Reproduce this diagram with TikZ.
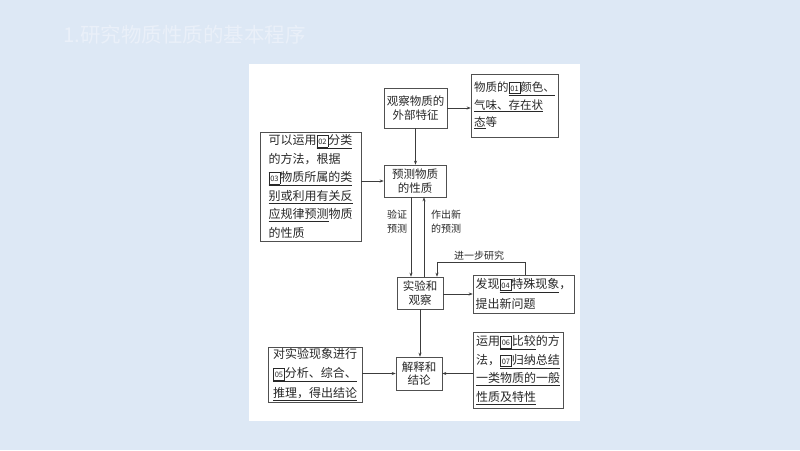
\documentclass[tikz,border=0pt]{standalone}
\usepackage{fontspec}
\newfontfamily\cjk{Noto Sans CJK SC}
\usetikzlibrary{arrows.meta}
\definecolor{bg}{RGB}{221,232,245}
\definecolor{titlec}{RGB}{234,240,249}
\definecolor{boxc}{RGB}{80,80,80}
\definecolor{linec}{RGB}{60,60,60}
\definecolor{txt}{RGB}{40,40,40}
\newcommand\nb[1]{{\fboxsep=0pt\fboxrule=0.45pt\fbox{\makebox[11pt]{\rule[-1.8pt]{0pt}{11pt}\fontsize{7.5}{7.5}\selectfont #1}}}}
\newcommand\ul[1]{\underline{#1}}
\begin{document}
\begin{tikzpicture}[x=1pt,y=-1pt,
  box/.style={draw=boxc, line width=0.6pt, inner sep=0pt, text=txt, align=center,
    font=\cjk\fontsize{11.5}{13.5}\selectfont},
  bigbox/.style={draw=boxc, line width=0.6pt, inner sep=0pt, text=txt, align=left,
    font=\cjk\fontsize{12}{18.5}\selectfont},
  lab/.style={text=txt, inner sep=0pt, align=center, font=\cjk\fontsize{10}{14}\selectfont},
  conn/.style={draw=linec, line width=0.6pt, -{Stealth[length=4pt,width=3pt]}}]
\fill[bg] (0,0) rectangle (800,450);
\useasboundingbox (0,0) rectangle (800,450);
\fill[white] (249,64) rectangle (580,421);
\node[anchor=west, text=titlec, inner sep=0pt, font=\cjk\fontsize{20.5}{22}\selectfont] (title) at (63,35) {1.研究物质性质的基本程序};

\node[box, minimum width=63pt, minimum height=40pt] (obs) at (415.5,108) {观察物质的\\外部特征};
\node[bigbox, minimum width=87pt, minimum height=63pt, font=\cjk\fontsize{11.5}{17.5}\selectfont] (col) at (514.5,105.5)
  {物质的\ul{\nb{01}颜色、}\\\ul{气味、存在状}\\\ul{态}等};
\node[box, minimum width=62pt, minimum height=32pt] (pred) at (415,181) {预测物质\\的性质};
\node[bigbox, minimum width=101pt, minimum height=109pt] (left) at (310.5,186.5)
  {可以运用\ul{\nb{02}分类}\\的方法，根据\\\ul{\nb{03}物质所属的类}\\\ul{别或利用有关反}\\\ul{应规律预测}物质\\的性质};
\node[box, minimum width=46pt, minimum height=32pt] (exp) at (420,293) {实验和\\观察};
\node[bigbox, minimum width=101pt, minimum height=38pt, font=\cjk\fontsize{12}{20}\selectfont] (disc) at (523.5,294)
  {发现\ul{\nb{04}特殊现象}，\\提出新问题};
\node[box, minimum width=46pt, minimum height=33pt] (conc) at (419,373.5) {解释和\\结论};
\node[bigbox, minimum width=94pt, minimum height=55pt, font=\cjk\fontsize{12}{19.5}\selectfont] (bl) at (315,374.5)
  {对实验现象进行\\\ul{\nb{05}分析、综合、}\\\ul{推理，得出结论}};
\node[bigbox, minimum width=90pt, minimum height=76pt] (br) at (518,370)
  {运用\ul{\nb{06}比较}的方\\法，\ul{\nb{07}归纳总结}\\\ul{一类物质的一般}\\\ul{性质及特性}};

\node[lab] (l1) at (397,222) {验证\\预测};
\node[lab] (l2) at (446,222) {作出新\\的预测};
\node[lab] (l3) at (479,256) {进一步研究};

\draw[conn] (obs.east) -- (obs.east -| col.west);
\draw[conn] (obs.south) -- (obs.south |- pred.north);
\draw[conn] (left.east |- pred.west) -- (pred.west);
\draw[conn] ([xshift=-9pt]exp.north |- pred.south) -- ([xshift=-9pt]exp.north);
\draw[conn] ([xshift=4pt]exp.north) -- ([xshift=4pt]exp.north |- pred.south);
\draw[conn] (exp.east |- disc.west) -- (disc.west);
\draw[conn] ([xshift=1.5pt]disc.north) |- ([xshift=17pt,yshift=14pt]exp.north) -- ([xshift=17pt]exp.north);
\draw[conn] (exp.south) -- (exp.south |- conc.north);
\draw[conn] (bl.east |- conc.west) -- (conc.west);
\draw[conn] (br.west |- conc.east) -- (conc.east);
\end{tikzpicture}
\end{document}
